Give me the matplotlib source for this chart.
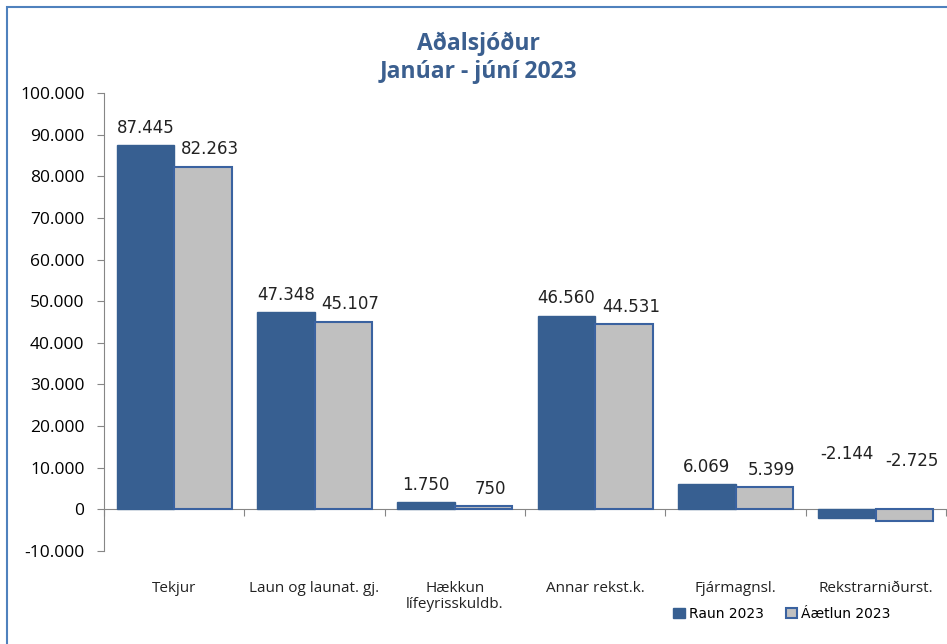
import matplotlib.pyplot as plt
import numpy as np
from matplotlib.patches import Rectangle
from matplotlib.ticker import FuncFormatter
from matplotlib.transforms import blended_transform_factory

categories = ["Tekjur", "Laun og launat. gj.", "Hækkun\nlífeyrisskuldb.",
              "Annar rekst.k.", "Fjármagnsl.", "Rekstrarniðurst."]
raun = [87445, 47348, 1750, 46560, 6069, -2144]
aetlun = [82263, 45107, 750, 44531, 5399, -2725]
series_names = ["Raun 2023", "Áætlun 2023"]

blue = "#375f91"
grey = "#c0c0c0"
edge = "#3a62a0"
axis_grey = "#868686"

def fmt(v, pos=None):
    s = f"{abs(int(v)):,}".replace(",", ".")
    return ("-" if v < 0 else "") + s

fig = plt.figure(figsize=(9.47, 6.44), dpi=100)
ax = fig.add_axes([104 / 947, 93 / 644, (946 - 104) / 947, (551 - 93) / 644])

x = np.arange(len(categories))
w = 0.41
b1 = ax.bar(x - w / 2, raun, w, color=blue, edgecolor=blue, linewidth=1, label=series_names[0], zorder=3)
b2 = ax.bar(x + w / 2, aetlun, w, color=grey, edgecolor=edge, linewidth=1.5, label=series_names[1], zorder=3)

ax.set_ylim(-10000, 100000)
ax.set_xlim(-0.5, len(categories) - 0.5)
ax.set_yticks(np.arange(-10000, 100001, 10000))
ax.yaxis.set_major_formatter(FuncFormatter(fmt))
ax.tick_params(axis="y", length=5, color=axis_grey, labelsize=12.5, pad=9)
for lab in ax.get_yticklabels():
    lab.set_family("Open Sans")

ax.spines["top"].set_visible(False)
ax.spines["right"].set_visible(False)
ax.spines["left"].set_color(axis_grey)
ax.spines["bottom"].set_color(axis_grey)
ax.spines["bottom"].set_position(("data", 0))
ax.set_xticks(np.arange(-0.5, len(categories), 1.0))
ax.set_xticklabels([])
ax.tick_params(axis="x", length=5, color=axis_grey, direction="out")

trans = blended_transform_factory(ax.transData, fig.transFigure)
for i, c in enumerate(categories):
    ax.text(i, 1 - 581 / 644, c, transform=trans, ha="center", va="top",
            fontsize=11, family="Open Sans", color="#222222", linespacing=1.05)

for bars, vals, dx, noff in [(b1, raun, 0.0, 40), (b2, aetlun, 0.05, 35)]:
    for rect, v in zip(bars, vals):
        cx = rect.get_x() + rect.get_width() / 2 + dx
        if v >= 0:
            ax.annotate(fmt(v), (cx, v), xytext=(0, 12.5), textcoords="offset points",
                        ha="center", va="center", fontsize=12, color="#222222")
        else:
            ax.annotate(fmt(v), (cx, 0), xytext=(0, noff), textcoords="offset points",
                        ha="center", va="center", fontsize=12, color="#222222")

fig.text(478 / 947, 1 - 44 / 644, "Aðalsjóður", ha="center", va="center",
         fontsize=16.5, fontweight="bold", family="Open Sans", color="#3b5f8f")
fig.text(478 / 947, 1 - 72 / 644, "Janúar - júní 2023", ha="center", va="center",
         fontsize=16.5, fontweight="bold", family="Open Sans", color="#3b5f8f")

leg = fig.legend(handles=[b1, b2], labels=series_names, loc="center",
                 bbox_to_anchor=(782 / 947, 1 - 614 / 644), ncol=2, frameon=False,
                 fontsize=10, handlelength=0.8, handleheight=0.8, handletextpad=0.3,
                 columnspacing=1.6)

fig.patches.append(Rectangle((7 / 947, -0.1), 1.2, 1 - 7 / 644 + 0.1,
                             transform=fig.transFigure, fill=False,
                             edgecolor="#4f81bd", linewidth=1.5))

fig.savefig("out.png", dpi=100)
